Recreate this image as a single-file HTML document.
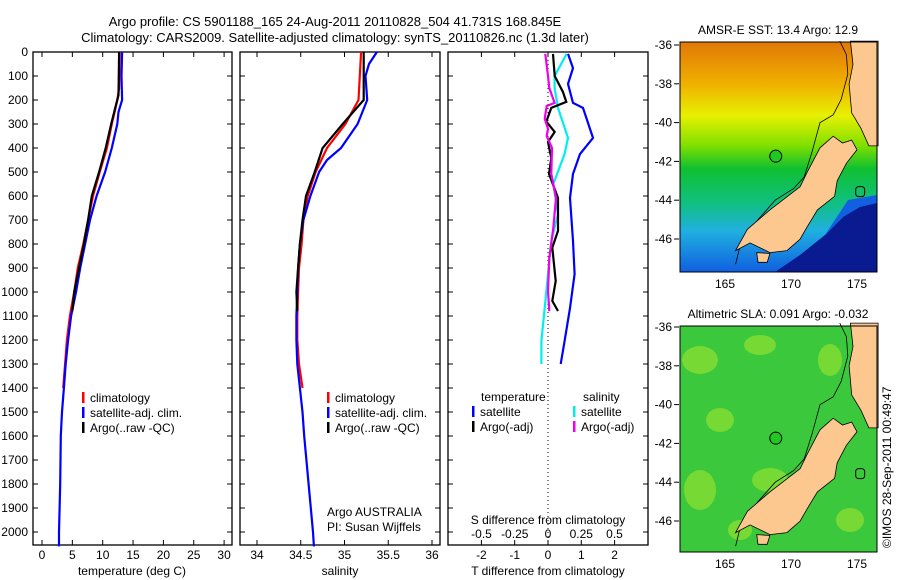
<!DOCTYPE html>
<html><head><meta charset="utf-8">
<style>
body{margin:0;background:#fff;}
svg{display:block;font-family:"Liberation Sans",sans-serif;}
text{font-size:12px;fill:#000;}
</style></head>
<body>
<svg id="chart" width="900" height="580" viewBox="0 0 900 580">
<g>
<text x="335" y="26" text-anchor="middle" style="font-size:13px">Argo profile: CS 5901188_165 24-Aug-2011 20110828_504 41.731S 168.845E</text>
<text x="335" y="42" text-anchor="middle" style="font-size:13px">Climatology: CARS2009. Satellite-adjusted climatology: synTS_20110826.nc (1.3d later)</text>
</g>
<g id="p1"></g>
<g id="p2"></g>
<g id="p3"></g>
<g id="maps"></g>
<text transform="translate(891,548) rotate(-90)">©IMOS 28-Sep-2011 00:49:47</text>
</svg>
<script>
// ---- data ----
const depthTicks=[0,100,200,300,400,500,600,700,800,900,1000,1100,1200,1300,1400,1500,1600,1700,1800,1900,2000];
const tempTicks=[0,5,10,15,20,25,30];
const salTicks=[34,34.5,35,35.5,36];
const tdiffTicks=[-2,-1,0,1,2];
const sdiffTicks=[-0.5,-0.25,0,0.25,0.5];
const sdiffLabels=["-0.5","-0.25","0","0.25","0.5"];

const climTdepth=[0,150,200,300,400,500,600,700,800,900,1000,1100,1200,1300,1400];
const climT=[12.8,12.7,12.4,11.5,10.7,9.5,8.4,7.6,6.8,5.9,5.3,4.6,4.1,3.8,3.5];
const satTdepth=[0,100,200,250,300,400,500,600,700,800,900,1000,1100,1200,1300,1400,1500,1600,1800,2000,2060];
const satT=[13.2,13.1,13.2,12.6,12.4,11.5,10.4,9.0,7.9,7.1,6.3,5.6,4.8,4.3,3.9,3.6,3.3,3.1,3.0,2.8,2.8];
const argoTdepth=[0,180,250,300,400,500,600,700,800,900,1000,1080];
const argoT=[12.7,12.6,11.9,11.4,10.5,9.4,8.2,7.6,6.9,6.1,5.3,5.0];

const climSdepth=[0,200,300,400,500,600,700,800,900,1000,1100,1200,1300,1400];
const climS=[35.19,35.16,35.01,34.80,34.67,34.58,34.53,34.51,34.48,34.47,34.46,34.46,34.48,34.52];
const satSdepth=[0,50,100,200,300,400,450,500,600,700,800,900,1000,1100,1200,1300,1400,1500,1600,1800,2000,2060];
const satS=[35.37,35.28,35.24,35.26,35.15,34.96,34.80,34.71,34.61,34.53,34.49,34.47,34.46,34.45,34.45,34.46,34.49,34.52,34.54,34.59,34.64,34.65];
const argoSdepth=[0,200,300,400,500,600,700,800,900,1000,1080];
const argoS=[35.22,35.22,34.98,34.75,34.66,34.56,34.52,34.49,34.47,34.45,34.46];

const dTsatDepth=[8,67,133,212,233,358,425,508,608,787,925,1067,1204,1300];
const dTsat=[0.6,0.75,0.6,0.75,1.05,1.35,0.96,0.75,0.66,0.75,0.8,0.66,0.5,0.38];
const dTargoDepth=[8,100,167,208,233,290,333,375,442,508,608,745,815,954,1037,1079];
const dTargo=[0.15,0.2,0.45,0.55,0.1,-0.05,0.2,0,0.1,0.03,0.3,0.3,0.13,0.23,0.13,0.3];
const dSsatDepth=[8,100,150,233,358,425,550,675,787,925,1067,1204,1300];
const dSsat=[0.14,0.05,0.05,0.075,0.15,0.125,0.04,0.075,0.025,0,-0.025,-0.05,-0.05];
const dSargoDepth=[8,100,150,212,225,278,320,350,400,508,608,733,858,996,1079];
const dSargo=[-0.02,0,0.01,0.05,-0.01,-0.025,0,-0.01,0.03,0.025,0.06,0.04,0.01,0,0.01];

const NS='http://www.w3.org/2000/svg';
function mk(tag,attrs,parent){const e=document.createElementNS(NS,tag);for(const k in attrs)e.setAttribute(k,attrs[k]);parent.appendChild(e);return e;}
const TOP=52,BOT=545;
const yD=d=>TOP+d*0.24;

function panel(g,x0,x1){
  const r=mk('rect',{x:x0,y:TOP,width:x1-x0,height:BOT-TOP,fill:'none',stroke:'#000','stroke-width':1.3},g);
  
  
  depthTicks.forEach(d=>{mk('line',{x1:x0,x2:x0+5,y1:yD(d),y2:yD(d),stroke:'#000'},g);mk('line',{x1:x1,x2:x1-5,y1:yD(d),y2:yD(d),stroke:'#000'},g);});
}
function xTicks(g,vals,labels,sx,y,name){
  vals.forEach((v,i)=>{
    mk('line',{x1:sx(v),x2:sx(v),y1:BOT,y2:BOT-5,stroke:'#000'},g);
    mk('line',{x1:sx(v),x2:sx(v),y1:TOP,y2:TOP+5,stroke:'#000'},g);
    const t=mk('text',{x:sx(v),y:y,'text-anchor':'middle'},g);t.textContent=labels[i];
    
    
  });
}
function line(g,depths,vals,sx,color,name){
  const p=mk('polyline',{points:depths.map((d,i)=>sx(vals[i]).toFixed(1)+','+yD(d).toFixed(1)).join(' '),fill:'none',stroke:color,'stroke-width':2.2},g);
  
  
}
function legend(g,x,y,items){
  items.forEach((it,i)=>{
    mk('rect',{x:x,y:y+i*15-10,width:2.5,height:11,fill:it[0]},g);
    const t=mk('text',{x:x+8,y:y+i*15},g);t.textContent=it[1];
    
    
  });
}
// panel 1
const g1=document.getElementById('p1');
const sT=v=>42+6.07*v;
panel(g1,33,232);
depthTicks.forEach(d=>{const t=mk('text',{x:28,y:yD(d)+4,'text-anchor':'end'},g1);t.textContent=d;

});
xTicks(g1,tempTicks,tempTicks.map(String),sT,559,'temp-tick-label');
line(g1,climTdepth,climT,sT,'#f00','climatology-temp-line');
line(g1,satTdepth,satT,sT,'#00f','satellite-temp-line');
line(g1,argoTdepth,argoT,sT,'#000','argo-temp-line');
legend(g1,82,402,[['#f00','climatology'],['#00f','satellite-adj. clim.'],['#000','Argo(..raw -QC)']]);
let t=mk('text',{x:132,y:575,'text-anchor':'middle'},g1);t.textContent='temperature (deg C)';
// panel 2
const g2=document.getElementById('p2');
const sS=v=>257+87.5*(v-34);
panel(g2,240,440);
xTicks(g2,salTicks,salTicks.map(String),sS,559,'salinity-tick-label');
line(g2,climSdepth,climS,sS,'#f00','climatology-sal-line');
line(g2,satSdepth,satS,sS,'#00f','satellite-sal-line');
line(g2,argoSdepth,argoS,sS,'#000','argo-sal-line');
legend(g2,327,402,[['#f00','climatology'],['#00f','satellite-adj. clim.'],['#000','Argo(..raw -QC)']]);
t=mk('text',{x:327,y:516},g2);t.textContent='Argo AUSTRALIA';
t=mk('text',{x:327,y:531},g2);t.textContent='PI: Susan Wijffels';
t=mk('text',{x:340,y:575,'text-anchor':'middle'},g2);t.textContent='salinity';
// panel 3
const g3=document.getElementById('p3');
const sDT=v=>548+33.3*v, sDS=v=>548+133*v;
panel(g3,448,648);
mk('line',{x1:548,x2:548,y1:TOP,y2:BOT,stroke:'#000','stroke-dasharray':'1,3'},g3);
xTicks(g3,tdiffTicks,tdiffTicks.map(String),sDT,559,'tdiff-tick-label');
sdiffTicks.forEach((v,i)=>{const tt=mk('text',{x:sDS(v),y:538,'text-anchor':'middle'},g3);tt.textContent=sdiffLabels[i];

});
t=mk('text',{x:548,y:524,'text-anchor':'middle'},g3);t.textContent='S difference from climatology';
t=mk('text',{x:548,y:575,'text-anchor':'middle'},g3);t.textContent='T difference from climatology';
line(g3,dTsatDepth,dTsat,sDT,'#00f','tdiff-satellite-line');
line(g3,dSsatDepth,dSsat,sDS,'#0ee','sdiff-satellite-line');
line(g3,dTargoDepth,dTargo,sDT,'#000','tdiff-argo-line');
line(g3,dSargoDepth,dSargo,sDS,'#e0e','sdiff-argo-line');
t=mk('text',{x:481,y:401},g3);t.textContent='temperature';
t=mk('text',{x:583,y:401},g3);t.textContent='salinity';
legend(g3,472,416,[['#00f','satellite'],['#000','Argo(-adj)']]);
legend(g3,573,416,[['#0ee','satellite'],['#e0e','Argo(-adj)']]);

// maps
const gm=document.getElementById('maps');
const lonX=lon=>791+(lon-170)*13.2;
const southIsland=[[165.8,-46.6],[166.7,-45.5],[168.4,-44.5],[170.7,-43.3],[171.2,-42.6],[172.2,-41.3],[173.2,-40.7],[173.9,-41.05],[174.6,-40.9],[175.0,-41.4],[174.2,-42.1],[173.5,-43.0],[173.3,-43.8],[172.0,-44.5],[171.2,-45.4],[170.7,-46.0],[169.7,-46.6],[168.4,-46.7],[166.9,-46.2]];
const northIsland=[[174.5,-35.8],[174.7,-37],[174.4,-38],[174.6,-39.5],[175.3,-40.3],[175.9,-41.2],[176.6,-41.2],[176.6,-35.8]];
const stewart=[[167.4,-46.7],[168.4,-46.75],[168.2,-47.2],[167.5,-47.2]];
const shelf=[[165.8,-47.3],[166.2,-46.2],[167.5,-45],[168.8,-44.0],[170.2,-43.4],[171.0,-42.8],[171.6,-41.5],[172.2,-40.0],[173.2,-39.6],[173.8,-38.8],[174.3,-37.5],[174.2,-36.5],[173.7,-35.8]];
function map(y0,h,lat0,colorFill,title,name){
  const ly=lat=>lat0+(-36-lat)*19.4;
  const g=mk('g',{},gm);
  
  
  colorFill(g,y0,h);
  const pp=a=>a.map(p=>lonX(p[0]).toFixed(1)+','+ly(p[1]).toFixed(1)).join(' ');
  mk('polyline',{points:pp(shelf),fill:'none',stroke:'#000','stroke-width':0.8},g);
  [southIsland,northIsland,stewart].forEach(a=>mk('polygon',{points:pp(a),fill:'#fcc890',stroke:'#000','stroke-width':0.8},g));
  mk('rect',{x:680,y:y0,width:197,height:h,fill:'none',stroke:'#000'},g);
  mk('circle',{cx:lonX(168.845),cy:ly(-41.731),r:6,fill:'#22c822',stroke:'#000'},g);
  mk('rect',{x:lonX(174.9),y:ly(-43.3),width:9,height:10,rx:3,fill:'none',stroke:'#000'},g);
  [-36,-38,-40,-42,-44,-46].forEach(l=>{mk('line',{x1:674,x2:679,y1:ly(l),y2:ly(l),stroke:'#000'},g);
   const tt=mk('text',{x:672,y:ly(l)+4,'text-anchor':'end'},g);tt.textContent=l;});
  [165,170,175].forEach(l=>{const tt=mk('text',{x:lonX(l),y:y0+h+16,'text-anchor':'middle'},g);tt.textContent=l;});
  const tt=mk('text',{x:778,y:y0-8,'text-anchor':'middle'},g);tt.textContent=title;
}
const defs=mk('defs',{},gm);
const lg=mk('linearGradient',{id:'sst',x1:0,y1:0,x2:0,y2:1},defs);
[['0','#e07808'],['0.18','#f0b000'],['0.32','#e8f000'],['0.45','#80e000'],['0.55','#10c030'],['0.7','#10c080'],['0.82','#20b0e0'],['1','#1060e0']].forEach(s=>mk('stop',{offset:s[0],'stop-color':s[1]},lg));
map(42,230,45,(g,y0,h)=>{
  mk('rect',{x:680,y:y0,width:197,height:h,fill:'url(#sst)'},g);
  mk('polygon',{points:'775,272 800,255 825,235 845,215 860,205 877,200 877,272',fill:'#0a1a90'},g);
  mk('polygon',{points:'825,235 848,200 877,195 877,203 860,207 843,217',fill:'#1060e0'},g);
},'AMSR-E SST: 13.4 Argo: 12.9','sst-map');
map(326,226,327,(g,y0,h)=>{
  mk('rect',{x:680,y:y0,width:197,height:h,fill:'#3cc83c'},g);
  [[700,360,18,14],[760,345,16,10],[720,420,14,12],[830,360,12,16],[700,490,16,20],[770,480,18,12],[850,520,14,12],[740,530,12,10]].forEach(e=>mk('ellipse',{cx:e[0],cy:e[1],rx:e[2],ry:e[3],fill:'#90e030',opacity:0.7},g));
},'Altimetric SLA: 0.091 Argo: -0.032','sla-map');
</script>
</body></html>
